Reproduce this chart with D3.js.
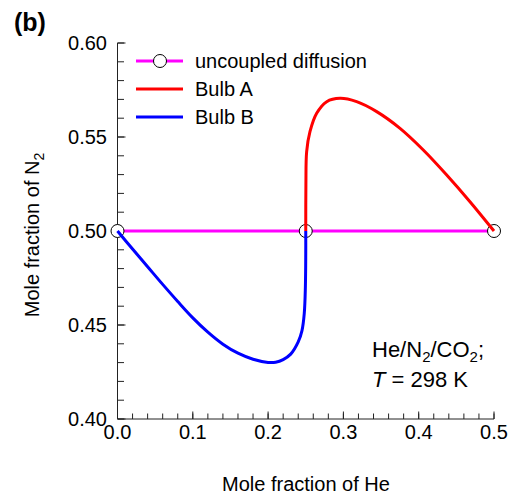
<!DOCTYPE html>
<html>
<head>
<meta charset="utf-8">
<script src="https://cdn.jsdelivr.net/npm/d3@7"></script>
<style>
  html, body { margin: 0; padding: 0; background: #fff; }
  svg { display: block; font-family: "Liberation Sans", Arial, sans-serif; }
</style>
</head>
<body>
<svg id="chart" width="511" height="494"></svg>
<script>
// Mole fraction of He (x) and N2 (y) along each bulb's composition path
const bulbA = [
  [0.25, 0.5], [0.2502, 0.5245], [0.2512, 0.5422], [0.2556, 0.5528], [0.2645, 0.5626],
  [0.2778, 0.5688], [0.2955, 0.5706], [0.3176, 0.5688], [0.3442, 0.5635],
  [0.3752, 0.5546], [0.4061, 0.5431], [0.4372, 0.5298], [0.4681, 0.5156], [0.5, 0.5]
];
const bulbB = [
  [0, 0.5], [0.02, 0.4904], [0.04, 0.4810], [0.06, 0.4716], [0.08, 0.4625],
  [0.10, 0.4538], [0.12, 0.4462], [0.14, 0.4398], [0.16, 0.4350], [0.18, 0.4318],
  [0.20, 0.4301], [0.21, 0.4302], [0.22, 0.4316], [0.23, 0.4345], [0.24, 0.4410],
  [0.245, 0.4470], [0.248, 0.4560], [0.2495, 0.4700], [0.25, 0.488], [0.25, 0.5]
];
// Uncoupled diffusion keeps N2 fixed; circles mark the start/end states
const uncoupled = [[0, 0.5], [0.25, 0.5], [0.5, 0.5]];

const xTicks = [0, 0.1, 0.2, 0.3, 0.4, 0.5];
const yTicks = [0.40, 0.45, 0.50, 0.55, 0.60];
const legendLabels = ["uncoupled diffusion", "Bulb A", "Bulb B"];

const svg = d3.select("#chart");
const x = d3.scaleLinear().domain([0, 0.5]).range([117.5, 494]);
const y = d3.scaleLinear().domain([0.40, 0.60]).range([419, 43]);

const axisColor = "#222";
const fs = 20;

// Minor ticks (drawn inward)
const xMinor = d3.range(0, 0.5001, 0.02).map(v => +v.toFixed(2));
const yMinor = d3.range(0.40, 0.6001, 0.01).map(v => +v.toFixed(2));

const g = svg.append("g");

g.selectAll("line.xminor").data(xMinor).join("line")
  .attr("x1", d => x(d)).attr("x2", d => x(d))
  .attr("y1", y(0.40)).attr("y2", y(0.40) - 5.5)
  .attr("stroke", axisColor).attr("stroke-width", 1);
g.selectAll("line.xmajor").data(xTicks).join("line")
  .attr("x1", d => x(d)).attr("x2", d => x(d))
  .attr("y1", y(0.40)).attr("y2", y(0.40) - 7.5)
  .attr("stroke", axisColor).attr("stroke-width", 1);
g.selectAll("line.yminor").data(yMinor).join("line")
  .attr("x1", x(0)).attr("x2", x(0) + 6.5)
  .attr("y1", d => y(d)).attr("y2", d => y(d))
  .attr("stroke", axisColor).attr("stroke-width", 1);
g.selectAll("line.ymajor").data(yTicks).join("line")
  .attr("x1", x(0)).attr("x2", x(0) + 8)
  .attr("y1", d => y(d)).attr("y2", d => y(d))
  .attr("stroke", axisColor).attr("stroke-width", 1);

// Axis lines
g.append("line").attr("x1", x(0)).attr("x2", x(0.5))
  .attr("y1", y(0.40)).attr("y2", y(0.40))
  .attr("stroke", axisColor).attr("stroke-width", 1);
g.append("line").attr("x1", x(0)).attr("x2", x(0))
  .attr("y1", y(0.40)).attr("y2", y(0.60))
  .attr("stroke", axisColor).attr("stroke-width", 1);

// Tick labels
g.selectAll("text.xl").data(xTicks).join("text")
  .attr("x", d => x(d)).attr("y", 439)
  .attr("text-anchor", "middle").attr("font-size", fs)
  .text(d => d.toFixed(1));
g.selectAll("text.yl").data(yTicks).join("text")
  .attr("x", 107).attr("y", d => y(d) + 7)
  .attr("text-anchor", "end").attr("font-size", fs)
  .text(d => d.toFixed(2));

// Axis titles
svg.append("text").attr("x", 306).attr("y", 491)
  .attr("text-anchor", "middle").attr("font-size", fs)
  .text("Mole fraction of He");
const yt = svg.append("text")
  .attr("transform", "translate(39,235) rotate(-90)")
  .attr("text-anchor", "middle").attr("font-size", fs);
yt.append("tspan").text("Mole fraction of N");
yt.append("tspan").attr("font-size", 14).attr("dy", 5).text("2");

// Panel label
svg.append("text").attr("x", 14).attr("y", 31)
  .attr("font-size", 25).attr("font-weight", "bold").text("(b)");

const line = d3.line().x(d => x(d[0])).y(d => y(d[1]));
const curve = d3.line().x(d => x(d[0])).y(d => y(d[1])).curve(d3.curveCatmullRom.alpha(0.5));

// Uncoupled diffusion line
svg.append("path").datum(uncoupled).attr("d", line)
  .attr("fill", "none").attr("stroke", "#ff00ff").attr("stroke-width", 3);
svg.selectAll("circle.pt").data(uncoupled).join("circle")
  .attr("cx", d => x(d[0])).attr("cy", d => y(d[1])).attr("r", 6.5)
  .attr("fill", "#fff").attr("stroke", "#000").attr("stroke-width", 1);

// Bulb paths
svg.append("path").datum(bulbB).attr("d", curve)
  .attr("fill", "none").attr("stroke", "#0000ff").attr("stroke-width", 3)
  .attr("stroke-linejoin", "round");
svg.append("path").datum(bulbA).attr("d", curve)
  .attr("fill", "none").attr("stroke", "#ff0000").attr("stroke-width", 3)
  .attr("stroke-linejoin", "round");

// Legend
const legendColors = ["#ff00ff", "#ff0000", "#0000ff"];
const lg = svg.append("g");
legendLabels.forEach((label, i) => {
  const ly = 61 + i * 28;
  lg.append("line").attr("x1", 136).attr("x2", 183).attr("y1", ly).attr("y2", ly)
    .attr("stroke", legendColors[i]).attr("stroke-width", 3);
  if (i === 0) {
    lg.append("circle").attr("cx", 160).attr("cy", ly).attr("r", 6.5)
      .attr("fill", "#fff").attr("stroke", "#000").attr("stroke-width", 1);
  }
  lg.append("text").attr("x", 195).attr("y", ly + 7).attr("font-size", fs).text(label);
});

// Annotation
const afs = 22;
const a1 = svg.append("text").attr("x", 372).attr("y", 357).attr("font-size", afs);
a1.append("tspan").text("He/N");
a1.append("tspan").attr("font-size", 15).attr("dy", 5).text("2");
a1.append("tspan").attr("dy", -5).text("/CO");
a1.append("tspan").attr("font-size", 15).attr("dy", 5).text("2");
a1.append("tspan").attr("dy", -5).text(";");
const a2 = svg.append("text").attr("x", 372).attr("y", 387).attr("font-size", afs);
a2.append("tspan").attr("font-style", "italic").text("T");
a2.append("tspan").text(" = 298 K");
</script>
</body>
</html>
